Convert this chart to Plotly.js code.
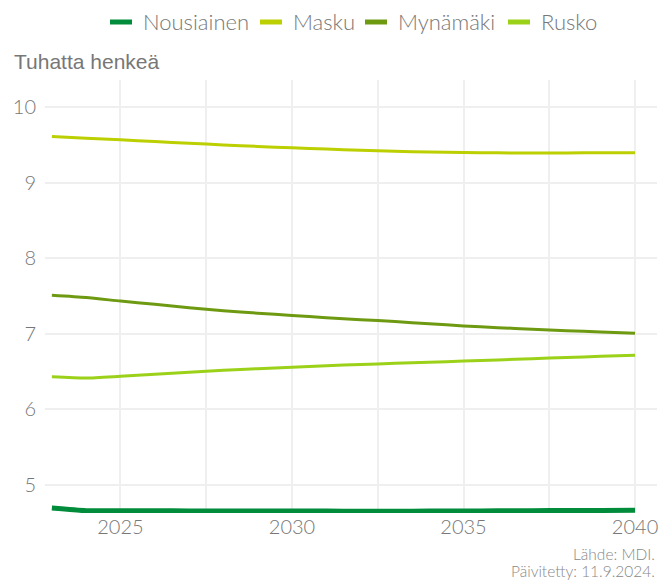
<!DOCTYPE html>
<html>
<head>
<meta charset="utf-8">
<script src="https://cdn.plot.ly/plotly-3.0.1.min.js"></script>
<style>html,body{margin:0;padding:0;background:#fff;}#chart{width:660px;height:581px;}</style>
</head>
<body>
<div id="chart"></div>
<script>
const years = [2023,2024,2025,2026,2027,2028,2029,2030,2031,2032,2033,2034,2035,2036,2037,2038,2039,2040];
const seriesNames = ["Nousiainen","Masku","Mynämäki","Rusko"];
const nousiainen = [4.69,4.655,4.655,4.654,4.653,4.652,4.651,4.65,4.65,4.649,4.649,4.65,4.652,4.654,4.656,4.658,4.659,4.66];
const masku = [9.612,9.59,9.567,9.545,9.522,9.50,9.48,9.462,9.445,9.43,9.416,9.406,9.40,9.395,9.393,9.394,9.396,9.398];
const mynamaki = [7.508,7.478,7.432,7.39,7.345,7.305,7.272,7.242,7.212,7.186,7.16,7.132,7.102,7.08,7.06,7.04,7.022,7.005];
const rusko = [6.428,6.412,6.436,6.462,6.49,6.515,6.537,6.556,6.575,6.592,6.607,6.622,6.637,6.652,6.668,6.685,6.70,6.716];
const colors = ["#008c3a","#bccf00","#6e9a12","#9cd11a"];
const yTitle = "Tuhatta henkeä";
const sourceLines = ["Lähde: MDI.", "Päivitetty: 11.9.2024."];

const vals = [nousiainen, masku, mynamaki, rusko];
const widths = [5,3,3,3];
const traces = seriesNames.map((n,i)=>({
  x: years, y: vals[i], name: n, type:'scatter', mode:'lines',
  line:{color:colors[i], width:widths[i], shape:'spline', smoothing:0.6},
  hoverinfo:'x+y+name', showlegend:false
}));

// Legend (compact swatches) placed in pixel terms, converted to paper coords
const W = 660, H = 581, ML = 45, MR = 3, MT = 80, MB = 68;
const PW = W-ML-MR, PH = H-MT-MB;
const px = v => (v-ML)/PW, py = v => (H-MB-v)/PH;
const legendSwatchX = [110, 260, 365, 508];
const legendY = 22;
const shapes = [], annotations = [];
seriesNames.forEach((n,i)=>{
  shapes.push({type:'line', xref:'paper', yref:'paper', x0:px(legendSwatchX[i]), x1:px(legendSwatchX[i]+22),
    y0:py(legendY), y1:py(legendY), line:{color:colors[i], width:5}});
  annotations.push({text:n, xref:'paper', yref:'paper', x:px(legendSwatchX[i]+31), y:py(legendY),
    xanchor:'left', yanchor:'middle', showarrow:false,
    font:{family:'Lato, sans-serif', size:22, color:'#777', weight:300}});
});

const tickFont = {family:'Lato, sans-serif', size:20, color:'#777', weight:300};
annotations.push(
  {text:yTitle, xref:'paper', yref:'paper', x:px(12), y:py(62), xanchor:'left', yanchor:'middle',
    showarrow:false, font:{family:'Liberation Sans, Arial, sans-serif', size:21, color:'#777'}}
);
[554, 571].forEach((yy,i)=>annotations.push(
  {text:sourceLines[i], xref:'paper', yref:'paper', x:1, y:py(yy), xanchor:'right', yanchor:'middle', align:'right',
    showarrow:false, font:{family:'Lato, sans-serif', size:15.5, color:'#888', weight:300}}
));

const layout = {
  width:W, height:H,
  margin:{l:ML, r:MR, t:MT, b:MB},
  paper_bgcolor:'#fff', plot_bgcolor:'#fff',
  showlegend:false,
  xaxis:{range:[2022.8,2040.64], tickvals:[2025,2030,2035,2040], ticktext:['2025','2030','2035','2040'],
    showgrid:true, gridcolor:'#efefef', gridwidth:2, zeroline:false, showline:false, ticks:'',
    ticklabeloverflow:'allow',
    minor:{tickvals:[2027.5,2032.5,2037.5], showgrid:true, gridcolor:'#efefef', gridwidth:2},
    tickfont:tickFont, fixedrange:true},
  yaxis:{range:[4.625,10.36], tickvals:[5,6,7,8,9,10], showgrid:true, gridcolor:'#efefef', gridwidth:2,
    zeroline:false, showline:false, ticks:'', ticklabelstandoff:8, tickfont:tickFont, fixedrange:true},
  shapes:shapes,
  annotations:annotations
};
Plotly.newPlot('chart', traces, layout, {displayModeBar:false});
</script>
</body>
</html>
